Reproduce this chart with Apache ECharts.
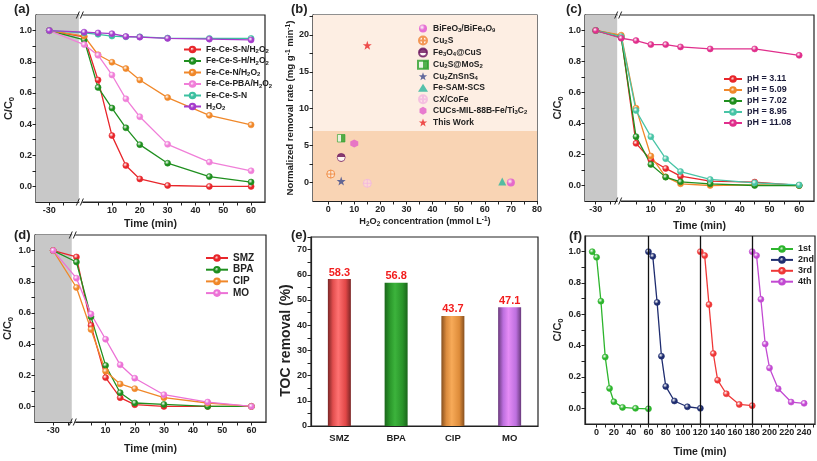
<!DOCTYPE html>
<html><head><meta charset="utf-8">
<script src="https://cdn.jsdelivr.net/npm/echarts@6/dist/echarts.min.js"></script>
<style>html,body{margin:0;padding:0;background:#fff}#c{width:817px;height:461px}</style>
</head><body><div id="c"></div><script>
// ================= DATA =================
// (a) control experiments
const timeMin = [-30, 0, 5, 10, 15, 20, 30, 45, 60];
const aNames = ['Fe-Ce-S-N/H2O2', 'Fe-Ce-S-H/H2O2', 'Fe-Ce-N/H2O2', 'Fe-Ce-PBA/H2O2', 'Fe-Ce-S-N', 'H2O2'];
const aFeCeSN_H2O2  = [1.0, 0.960, 0.683, 0.326, 0.134, 0.048, 0.006, 0.000, 0.000];
const aFeCeSH_H2O2  = [1.0, 0.940, 0.635, 0.503, 0.376, 0.268, 0.149, 0.063, 0.028];
const aFeCeN_H2O2   = [1.0, 0.965, 0.845, 0.797, 0.756, 0.683, 0.570, 0.456, 0.395];
const aFeCePBA_H2O2 = [1.0, 0.910, 0.842, 0.715, 0.562, 0.447, 0.270, 0.156, 0.100];
const aFeCeSN       = [1.0, 0.985, 0.976, 0.965, 0.960, 0.960, 0.952, 0.950, 0.950];
const aH2O2         = [1.0, 0.990, 0.985, 0.980, 0.962, 0.958, 0.950, 0.945, 0.940];

// (b) comparison
const bNames = ['BiFeO3/BiFe4O9', 'Cu2S', 'Fe3O4@CuS', 'Cu2S@MoS2', 'Cu2ZnSnS4', 'Fe-SAM-SCS', 'CX/CoFe', 'CUCs-MIL-88B-Fe/Ti3C2', 'This Work'];
const bH2O2 = [70, 1, 5, 5, 5, 66.7, 15, 10, 15];
const bRate = [0.0, 1.15, 3.4, 6.0, 0.2, 0.15, -0.1, 5.3, 18.6];
const bBandSplit = 7;

// (c) pH
const cNames = ['pH = 3.11', 'pH = 5.09', 'pH = 7.02', 'pH = 8.95', 'pH = 11.08'];
const cPH311  = [1.0, 0.965, 0.272, 0.166, 0.110, 0.060, 0.028, 0.022, 0.000];
const cPH509  = [1.0, 0.970, 0.499, 0.190, 0.056, 0.011, 0.000, 0.004, 0.000];
const cPH702  = [1.0, 0.955, 0.315, 0.136, 0.054, 0.024, 0.011, 0.000, 0.000];
const cPH895  = [1.0, 0.960, 0.484, 0.315, 0.173, 0.090, 0.039, 0.017, 0.004];
const cPH1108 = [1.0, 0.950, 0.935, 0.909, 0.909, 0.894, 0.881, 0.881, 0.840];

// (d) pollutants
const dNames = ['SMZ', 'BPA', 'CIP', 'MO'];
const dSMZ = [1.0, 0.959, 0.520, 0.185, 0.056, 0.011, 0.000, 0.000, 0.000];
const dBPA = [1.0, 0.927, 0.575, 0.263, 0.088, 0.022, 0.013, 0.000, 0.000];
const dCIP = [1.0, 0.763, 0.494, 0.226, 0.144, 0.114, 0.056, 0.022, 0.000];
const dMO  = [1.0, 0.823, 0.593, 0.431, 0.267, 0.181, 0.075, 0.028, 0.000];

// (e) TOC removal
const eCats = ['SMZ', 'BPA', 'CIP', 'MO'];
const eTOC = [58.3, 56.8, 43.7, 47.1];

// (f) cycles
const fNames = ['1st', '2nd', '3rd', '4th'];
const f1Time = [-5, 0, 5, 10, 15, 20, 30, 45, 60];
const f1 = [1.0, 0.964, 0.684, 0.327, 0.127, 0.042, 0.006, 0.000, -0.003];
const f2Time = [60, 65, 70, 75, 80, 90, 105, 120];
const f2 = [1.0, 0.970, 0.676, 0.333, 0.140, 0.047, 0.010, 0.000];
const f3Time = [120, 125, 130, 135, 140, 150, 165, 180];
const f3 = [1.0, 0.975, 0.662, 0.350, 0.180, 0.093, 0.025, 0.017];
const f4Time = [180, 185, 190, 195, 200, 210, 225, 240];
const f4 = [1.0, 0.975, 0.696, 0.411, 0.258, 0.125, 0.040, 0.032];
const fCycleBounds = [60, 120, 180];

// tick labels
const ccTicks = [0, 0.2, 0.4, 0.6, 0.8, 1.0];
const timeTicks = [10, 20, 30, 40, 50, 60];
const bXTicks = [0, 10, 20, 30, 40, 50, 60, 70, 80];
const bYTicks = [0, 5, 10, 15, 20];
const fXTicks = [0, 20, 40, 60, 80, 100, 120, 140, 160, 180, 200, 220, 240];

// ================= STYLE / LAYOUT =================
const FONT = '"Liberation Sans", Arial, Helvetica, sans-serif';
const INK = '#222';
const chart = echarts.init(document.getElementById('c'), null, {renderer: 'canvas'});

// broken-axis settings (display position of t = -30, break location, axis range)
const BRK = {
  a: {neg: -12.5, brk: -1.9, min: -17.3, max: 65},
  c: {neg: -8.6, brk: -1.35, min: -12.2, max: 65},
  d: {neg: -7.95, brk: -1.6, min: -14.2, max: 65}
};
const mapT = cfg => t => (t === -30 ? cfg.neg : t);

const grids = [
  {left: 36, top: 15, width: 229, height: 187},
  {left: 313, top: 15, width: 224, height: 186},
  {left: 585, top: 15, width: 229, height: 186},
  {left: 35, top: 235, width: 231, height: 187},
  {left: 311, top: 237, width: 227, height: 189},
  {left: 585, top: 236, width: 230, height: 188}
].map(g => Object.assign(g, {show: true, borderColor: INK, borderWidth: 1.2, backgroundColor: 'transparent'}));

function range(a, b, s) { const r = []; for (let v = a; v <= b + 1e-9; v += s) r.push(+v.toFixed(4)); return r; }

function richSub(str) {
  let out = '', buf = '';
  for (let i = 0; i < str.length; i++) {
    const ch = str[i];
    if (/\d/.test(ch) && i > 0 && /[A-Za-z]/.test(str[i - 1])) {
      let j = i; while (j < str.length && /\d/.test(str[j])) j++;
      if (buf) out += '{n|' + buf + '}'; buf = '';
      out += '{s|' + str.slice(i, j) + '}'; i = j - 1;
    } else buf += ch;
  }
  if (buf) out += '{n|' + buf + '}';
  return out;
}
function rich(fs, lh) {
  return {
    n: {fontSize: fs, fontWeight: 'bold', fontFamily: FONT, color: INK, lineHeight: lh},
    s: {fontSize: fs * 0.7, fontWeight: 'bold', fontFamily: FONT, color: INK, lineHeight: fs * 0.6, verticalAlign: 'bottom'},
    p: {fontSize: fs * 0.7, fontWeight: 'bold', fontFamily: FONT, color: INK, lineHeight: fs * 0.6, verticalAlign: 'top'}
  };
}

function xAxisV(gi, min, max, labels, ticks, fmt, name, gap, nameFs) {
  return {
    type: 'value', gridIndex: gi, min, max, position: 'bottom',
    axisLine: {show: true, onZero: false, lineStyle: {color: INK, width: 1.2}},
    axisTick: {show: true, customValues: ticks, length: 3.5, lineStyle: {color: INK, width: 1}},
    axisLabel: {customValues: labels, formatter: fmt, fontSize: 9, fontWeight: 'bold', color: INK, fontFamily: FONT, margin: 4},
    splitLine: {show: false},
    name, nameLocation: 'middle', nameGap: gap,
    nameTextStyle: {fontSize: nameFs, fontWeight: 'bold', color: INK, fontFamily: FONT, rich: rich(nameFs, nameFs + 2)}
  };
}
function yAxisV(gi, min, max, labels, ticks, fmt, name, gap, nameFs) {
  const ax = xAxisV(gi, min, max, labels, ticks, fmt, name, gap, nameFs);
  ax.position = 'left';
  return ax;
}

function ball(c) {
  return {type: 'radial', x: 0.38, y: 0.35, r: 0.7,
    colorStops: [{offset: 0, color: '#ffffff'}, {offset: 0.5, color: c}, {offset: 1, color: c}]};
}
function lineS(name, gi, xs, ys, color, mapX) {
  return {
    type: 'line', name, xAxisIndex: gi, yAxisIndex: gi,
    data: xs.map((t, i) => [mapX ? mapX(t) : t, ys[i]]),
    symbol: 'circle', symbolSize: 6, showSymbol: true,
    lineStyle: {color, width: 1.3},
    itemStyle: {color: ball(color), borderColor: color, borderWidth: 0.6},
    emphasis: {disabled: true}, animation: false
  };
}

const RED = '#e8262b', GREEN = '#1f8f1f', ORANGE = '#f0882a', PINK = '#f07fd8', TEAL = '#3cc0a0', VIOLET = '#a63ccc', MAGENTA = '#e02f8c';

// ---------- axes ----------
const fmtT = cfg => v => (Math.abs(v - cfg.neg) < 0.01 ? '-30' : String(v));
const f1d = v => v.toFixed(1);
const CC = '{n|C/C}{s|0}';
const TIME = 'Time (min)';

const xAxes = [
  xAxisV(0, BRK.a.min, BRK.a.max, [BRK.a.neg].concat(timeTicks), [BRK.a.neg, BRK.a.neg + 5].concat(range(5, 60, 5)), fmtT(BRK.a), TIME, 16.5, 10.5),
  xAxisV(1, -5.8, 80, bXTicks, range(0, 80, 5), v => String(v), '{n|H}{s|2}{n|O}{s|2}{n| concentration (mmol L}{p|-1}{n|)}', 15, 9.2),
  xAxisV(2, BRK.c.min, BRK.c.max, [BRK.c.neg].concat(timeTicks), [BRK.c.neg, BRK.c.neg + 5].concat(range(5, 60, 5)), fmtT(BRK.c), TIME, 19.5, 10.5),
  xAxisV(3, BRK.d.min, BRK.d.max, [BRK.d.neg].concat(timeTicks), [BRK.d.neg, BRK.d.neg + 5].concat(range(5, 60, 5)), fmtT(BRK.d), TIME, 22, 10.5),
  {type: 'category', gridIndex: 4, data: eCats, position: 'bottom',
    axisLine: {show: true, lineStyle: {color: INK, width: 1.2}}, axisTick: {show: false},
    axisLabel: {fontSize: 9.5, fontWeight: 'bold', color: INK, fontFamily: FONT, margin: 7}},
  xAxisV(5, -13.4, 252.6, fXTicks, range(0, 250, 10), v => String(v), TIME, 22.5, 10.5)
];
const yAxes = [
  yAxisV(0, -0.1, 1.1, ccTicks, range(0, 1.0, 0.1), f1d, CC, 20.5, 11),
  yAxisV(1, -2.5, 22.7, bYTicks, range(0, 22.5, 2.5), v => String(v), '{n|Normalized removal rate (mg g}{p|-1}{n| min}{p|-1}{n|)}', 15, 9.6),
  yAxisV(2, -0.1, 1.1, ccTicks, range(0, 1.0, 0.1), f1d, CC, 20.5, 11),
  yAxisV(3, -0.1, 1.1, ccTicks, range(0, 1.0, 0.1), f1d, CC, 20.5, 11),
  yAxisV(4, 0, 75, range(0, 70, 10), range(0, 75, 5), v => String(v), 'TOC removal (%)', 16, 14),
  yAxisV(5, -0.1, 1.1, ccTicks, range(0, 1.0, 0.1), f1d, CC, 20, 11)
];
yAxes[4].nameTextStyle.padding = [0, 18, 0, 0];

// ---------- series ----------
const series = [];
function grayArea(cfg) {
  return {silent: true, itemStyle: {color: '#c8c8c8'},
    data: [[{xAxis: cfg.min, yAxis: -0.1}, {xAxis: cfg.brk, yAxis: 1.1}]]};
}
// (a)
const mA = mapT(BRK.a);
const aSets = [aFeCeSN_H2O2, aFeCeSH_H2O2, aFeCeN_H2O2, aFeCePBA_H2O2, aFeCeSN, aH2O2];
const aCols = [RED, GREEN, ORANGE, PINK, TEAL, VIOLET];
aSets.forEach((d, i) => series.push(lineS(aNames[i], 0, timeMin, d, aCols[i], mA)));
series[0].markArea = grayArea(BRK.a);
// (b)
const crossCircle = 'path://M10,0A10,10,0,1,1,-10,0A10,10,0,1,1,10,0ZM0,-10L0,10M-10,0L10,0';
const star = 'path://M0,-10L2.35,-3.24L9.51,-3.09L3.8,1.24L5.88,8.09L0,4L-5.88,8.09L-3.8,1.24L-9.51,-3.09L-2.35,-3.24Z';
const hexagon = 'path://M0,-10L8.66,-5L8.66,5L0,10L-8.66,5L-8.66,-5Z';
const half = (c, dir) => ({type: 'linear', x: 0, y: 0, x2: dir === 'h' ? 1 : 0, y2: dir === 'h' ? 0 : 1,
  colorStops: dir === 'h'
    ? [{offset: 0, color: '#e8f8e8'}, {offset: 0.5, color: '#e8f8e8'}, {offset: 0.5, color: c}, {offset: 1, color: c}]
    : [{offset: 0, color: c}, {offset: 0.5, color: c}, {offset: 0.5, color: '#fff'}, {offset: 0.85, color: '#fff'}, {offset: 0.85, color: c}, {offset: 1, color: c}]});
const bStyles = [
  {symbol: 'circle', size: 8, itemStyle: {color: ball('#e04fd0')}},
  {symbol: crossCircle, size: 8, itemStyle: {color: 'rgba(255,255,255,0.5)', borderColor: '#f07f30', borderWidth: 1}},
  {symbol: 'circle', size: 8, itemStyle: {color: half('#6a145e', 'v'), borderColor: '#6a145e', borderWidth: 0.8}},
  {symbol: 'rect', size: 7.5, itemStyle: {color: half('#2aa02a', 'h'), borderColor: '#2aa02a', borderWidth: 0.8}},
  {symbol: star, size: 9, itemStyle: {color: '#3c4a8c'}},
  {symbol: 'triangle', size: 8, itemStyle: {color: '#2bb59c'}},
  {symbol: crossCircle, size: 8, itemStyle: {color: 'rgba(255,220,240,0.6)', borderColor: '#f3b5df', borderWidth: 1}},
  {symbol: hexagon, size: 8, itemStyle: {color: '#e25ec9'}},
  {symbol: star, size: 9, itemStyle: {color: '#ea2424'}}
];
bNames.forEach((nm, i) => {
  series.push({type: 'scatter', name: nm, xAxisIndex: 1, yAxisIndex: 1,
    data: [[bH2O2[i], bRate[i]]], symbol: bStyles[i].symbol, symbolSize: bStyles[i].size,
    itemStyle: bStyles[i].itemStyle, emphasis: {disabled: true}, animation: false, z: 3});
});
series[aNames.length].markArea = {silent: true, data: [
  [{xAxis: -5.8, yAxis: -2.5, itemStyle: {color: '#f9d4b4'}}, {xAxis: 80, yAxis: bBandSplit}],
  [{xAxis: -5.8, yAxis: bBandSplit, itemStyle: {color: '#fdeee3'}}, {xAxis: 80, yAxis: 22.7}]
]};
// (c)
const mC = mapT(BRK.c);
const cSets = [cPH311, cPH509, cPH702, cPH895, cPH1108];
const cCols = [RED, ORANGE, GREEN, '#48c4a6', MAGENTA];
const cStart = series.length;
cSets.forEach((d, i) => series.push(lineS(cNames[i], 2, timeMin, d, cCols[i], mC)));
series[cStart].markArea = grayArea(BRK.c);
// (d)
const mD = mapT(BRK.d);
const dSets = [dSMZ, dBPA, dCIP, dMO];
const dCols = [RED, GREEN, ORANGE, '#ec72d6'];
const dStart = series.length;
dSets.forEach((d, i) => series.push(lineS(dNames[i], 3, timeMin, d, dCols[i], mD)));
series[dStart].markArea = grayArea(BRK.d);
// (e)
const barGrad = stops => ({type: 'linear', x: 0, y: 0, x2: 1, y2: 0,
  colorStops: stops.map((c, i) => ({offset: [0, 0.22, 0.45, 0.78, 1][i], color: c}))});
const eFill = [
  barGrad(['#7a2626', '#e24e4e', '#ff7272', '#e04646', '#7a2626']),
  barGrad(['#1b661b', '#2a962a', '#3cb33c', '#2a942a', '#1b661b']),
  barGrad(['#87501f', '#dc8c3e', '#f7aa58', '#de8c3a', '#87501f']),
  barGrad(['#6a3a7c', '#bc6ede', '#e58cf6', '#bd6fde', '#6a3a7c'])
];
series.push({type: 'bar', name: 'TOC removal', xAxisIndex: 4, yAxisIndex: 4, barWidth: 23,
  data: eTOC.map((v, i) => ({value: v, itemStyle: {color: eFill[i]}})),
  label: {show: true, position: 'top', distance: 1, color: '#f21d1d', fontSize: 11, fontWeight: 'bold', fontFamily: FONT,
    formatter: p => p.value.toFixed(1)},
  emphasis: {disabled: true}, animation: false});
// (f)
const fCols = ['#2db52d', '#1f2d70', '#ef3838', '#c24ad2'];
const fT = [f1Time, f2Time, f3Time, f4Time], fV = [f1, f2, f3, f4];
const fStart = series.length;
fV.forEach((d, i) => series.push(lineS(fNames[i], 5, fT[i], d, fCols[i])));
series[fStart].markLine = {silent: true, symbol: 'none', label: {show: false},
  lineStyle: {color: '#111', width: 1.3, type: 'solid'}, data: fCycleBounds.map(x => ({xAxis: x}))};

// ---------- legends ----------
function legend(names, left, top, iw, fs, lh, gap, tc) {
  const r = rich(fs, lh);
  if (tc) { r.n.color = tc; r.s.color = tc; }
  return {data: names, left, top, orient: 'vertical', itemWidth: iw, itemHeight: 7, itemGap: gap, padding: 0,
    selectedMode: false, formatter: nm => richSub(nm),
    textStyle: {fontSize: fs, fontWeight: 'bold', color: INK, fontFamily: FONT, rich: r}};
}
const legends = [
  legend(aNames, 183, 45, 17, 8.5, 10, 2),
  Object.assign(legend(bNames, 417, 24, 10, 8.5, 10, 2.05), {itemHeight: 8}),
  legend(cNames, 723, 74.5, 18, 9, 11, 2, '#1b1b3a'),
  legend(dNames, 205, 253, 22, 10, 12, 1.7),
  legend(fNames, 770, 244.5, 22, 9, 10, 1.9)
];

const titles = [['(a)', 14, 3], ['(b)', 291, 3], ['(c)', 566, 3], ['(d)', 14, 229], ['(e)', 291, 229], ['(f)', 569, 230]]
  .map(([t, l, tp]) => ({text: t, left: l, top: tp, padding: 0,
    textStyle: {fontSize: 13, fontWeight: 'bold', color: INK, fontFamily: FONT}}));

chart.setOption({
  animation: false,
  backgroundColor: '#fff',
  title: titles,
  grid: grids,
  xAxis: xAxes,
  yAxis: yAxes,
  legend: legends,
  series
});

// break marks "//" on top and bottom frame lines
const gfx = [];
[[0, BRK.a], [2, BRK.c], [3, BRK.d]].forEach(([gi, cfg]) => {
  [-0.1, 1.1].forEach(yv => {
    const p = chart.convertToPixel({gridIndex: gi}, [cfg.brk, yv]);
    const x = p[0], y = p[1];
    gfx.push({type: 'rect', shape: {x: x + 0.5, y: y - 2, width: 3, height: 4}, style: {fill: '#fff'}, z: 100});
    gfx.push({type: 'line', shape: {x1: x - 2.5, y1: y + 3.5, x2: x + 0.5, y2: y - 3.5}, style: {stroke: INK, lineWidth: 1}, z: 101});
    gfx.push({type: 'line', shape: {x1: x + 1.5, y1: y + 3.5, x2: x + 4.5, y2: y - 3.5}, style: {stroke: INK, lineWidth: 1}, z: 101});
  });
});
chart.setOption({graphic: gfx});
</script></body></html>
